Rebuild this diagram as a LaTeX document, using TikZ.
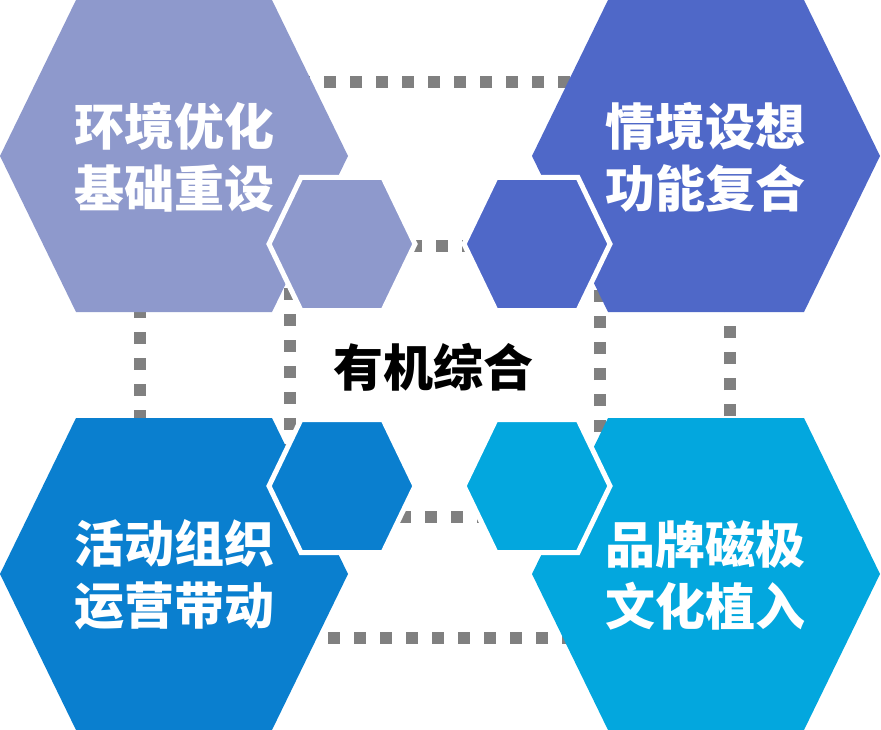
\documentclass[tikz,border=0pt]{standalone}
\usepackage{fontspec}
\newfontfamily\cjk{Noto Sans CJK SC}[BoldFont={Noto Sans CJK SC Black}]
\definecolor{lavender}{HTML}{8E99CC}
\definecolor{indigo}{HTML}{4F68C8}
\definecolor{ocean}{HTML}{0A7FCF}
\definecolor{sky}{HTML}{03A7DE}
\definecolor{dotgray}{HTML}{808080}
\tikzset{x=1pt, y=-1pt}
\tikzset{
    every node/.style={inner sep=0pt, align=center,
    	font=\cjk\bfseries\fontsize{50}{62}\selectfont},
    label/.style={text=white},
    dots/.style={draw=dotgray, line width=12pt, dash pattern=on 12pt off 14pt,
    	dash phase=10pt},
    big hex/.pic={\fill (-174,0) -- (-98,-156) -- (98,-156) -- (174,0)
    	-- (98,156) -- (-98,156) -- cycle;},
    small hex/.pic={\filldraw[draw=white, line width=5pt] (-73,0) -- (-41,-66.5)
    	-- (41,-66.5) -- (73,0) -- (41,66.5) -- (-41,66.5) -- cycle;}
}

\begin{document}
\begin{tikzpicture}
  \fill[white] (0,0) rectangle (881,730);
  \clip (0,0) rectangle (881,730);

  \coordinate (outer_a) at (140,82);
  \coordinate (outer_b) at (730,638);
  \coordinate (inner_a) at (290,246);
  \coordinate (inner_b) at (600,517);
  \draw[dots] (outer_a) rectangle (outer_b);
  \draw[dots] (inner_a) rectangle (inner_b);

  \pic[fill=lavender] at (174,156) {big hex};
  \pic[fill=indigo] at (706,156) {big hex};
  \pic[fill=ocean] at (174,574) {big hex};
  \pic[fill=sky] at (706,574) {big hex};

  \pic[fill=lavender] at (342,244) {small hex};
  \pic[fill=indigo] at (537,244) {small hex};
  \pic[fill=ocean] at (342,486) {small hex};
  \pic[fill=sky] at (537,486) {small hex};

  \node (env) [label] at (174,157) {环境优化\\基础重设};
  \node (scene) [label] at (705,157) {情境设想\\功能复合};
  \node (event) [label] at (174,575) {活动组织\\运营带动};
  \node (brand) [label] at (705,575) {品牌磁极\\文化植入};
  \node (core) at (433,367) {有机综合};
\end{tikzpicture}
\end{document}
